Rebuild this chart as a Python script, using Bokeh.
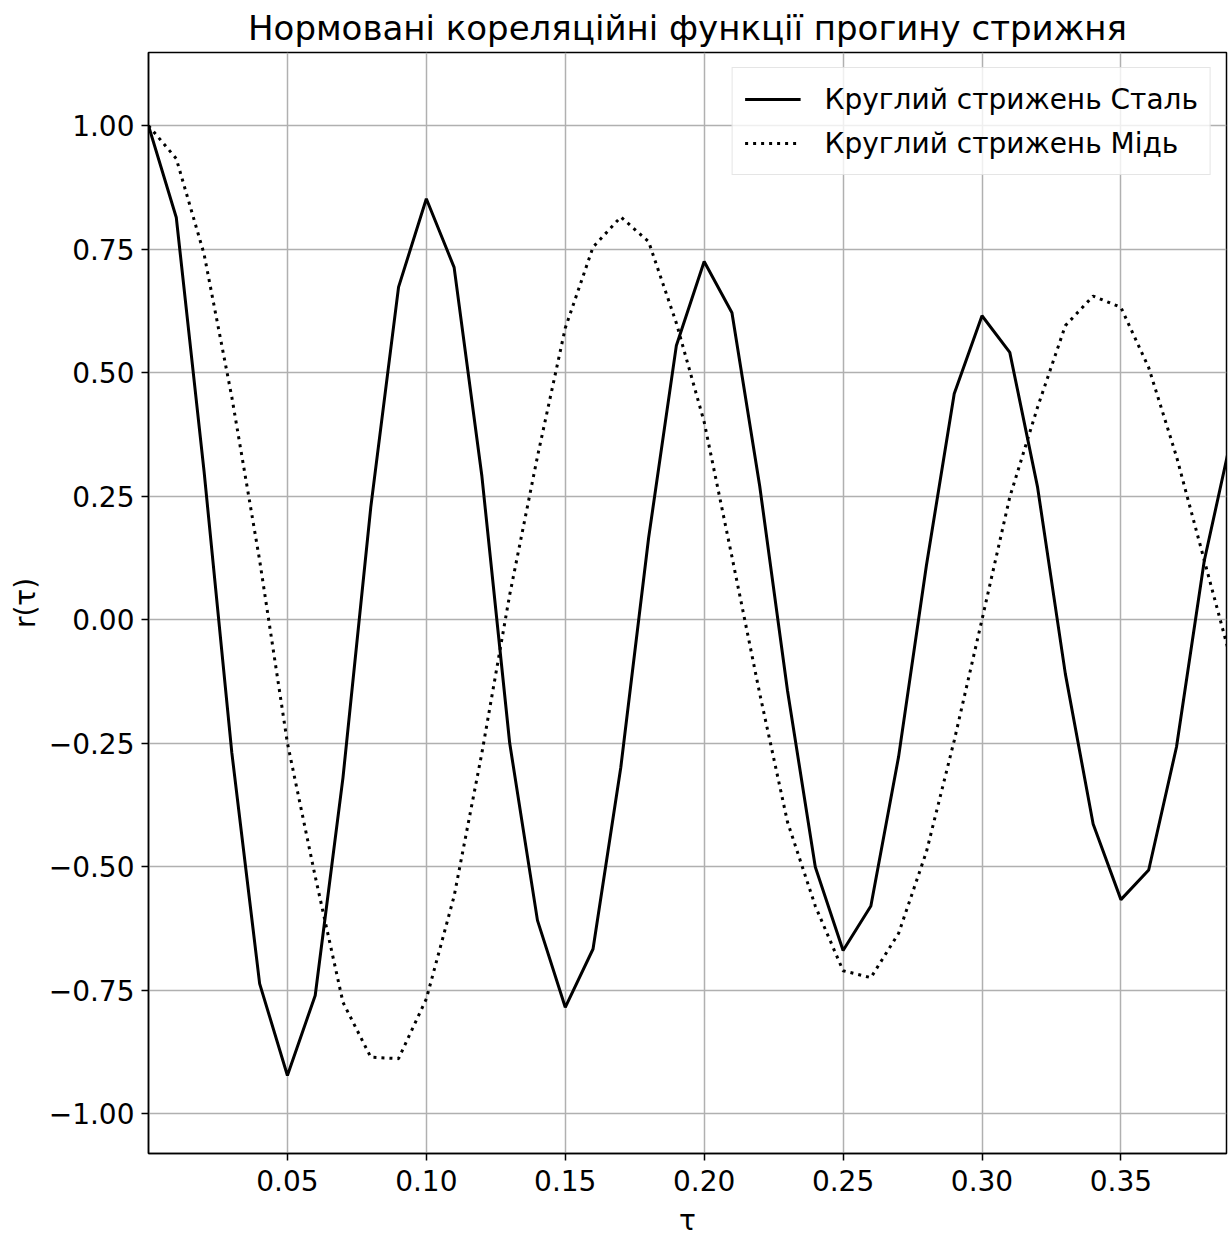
from bokeh.plotting import figure
from bokeh.models import FixedTicker, Legend, LegendItem, Range1d, ColumnDataSource
from bokeh.embed import file_html
from bokeh.resources import INLINE

# ---- data ----
tau = [0.00, 0.01, 0.02, 0.03, 0.04, 0.05, 0.06, 0.07, 0.08, 0.09,
       0.10, 0.11, 0.12, 0.13, 0.14, 0.15, 0.16, 0.17, 0.18, 0.19,
       0.20, 0.21, 0.22, 0.23, 0.24, 0.25, 0.26, 0.27, 0.28, 0.29,
       0.30, 0.31, 0.32, 0.33, 0.34, 0.35, 0.36, 0.37, 0.38, 0.39]

steel = [1.00, 0.814, 0.30, -0.27, -0.737, -0.923, -0.761, -0.32, 0.227, 0.673,
         0.852, 0.713, 0.29, -0.25, -0.609, -0.785, -0.667, -0.299, 0.165, 0.555,
         0.725, 0.621, 0.27, -0.144, -0.501, -0.670, -0.580, -0.277, 0.11, 0.457,
         0.615, 0.541, 0.268, -0.11, -0.414, -0.567, -0.507, -0.258, 0.119, 0.375]

copper = [1.00, 0.933, 0.74, 0.45, 0.12, -0.25, -0.52, -0.775, -0.886, -0.889,
          -0.768, -0.56, -0.27, 0.05, 0.33, 0.59, 0.754, 0.815, 0.765, 0.60,
          0.40, 0.127, -0.15, -0.41, -0.58, -0.711, -0.725, -0.635, -0.47, -0.245,
          0.0, 0.248, 0.43, 0.595, 0.655, 0.632, 0.51, 0.33, 0.12, -0.09]

series_names = ["Круглий стрижень Сталь", "Круглий стрижень Мідь"]

x_ticks = [0.05, 0.10, 0.15, 0.20, 0.25, 0.30, 0.35]
x_tick_labels = ["0.05", "0.10", "0.15", "0.20", "0.25", "0.30", "0.35"]
y_ticks = [-1.0, -0.75, -0.5, -0.25, 0.0, 0.25, 0.5, 0.75, 1.0]
y_tick_labels = ["\u22121.00", "\u22120.75", "\u22120.50", "\u22120.25", "0.00",
                 "0.25", "0.50", "0.75", "1.00"]

title_text = "Нормовані кореляційні функції прогину стрижня"
x_label = "τ"
y_label = "r(τ)"

FONT = "DejaVu Sans"

p = figure(width=1230, height=1242, output_backend="svg", toolbar_location=None,
           x_range=Range1d(0.0, 0.388), y_range=Range1d(-1.081, 1.148),
           min_border_left=148, min_border_right=4, min_border_top=52,
           min_border_bottom=89, background_fill_color="white",
           border_fill_color="white")

p.title.text = title_text
p.title.text_font = FONT
p.title.text_font_size = "34px"
p.title.text_font_style = "normal"
p.title.align = "center"
p.title.text_color = "black"

src = ColumnDataSource(dict(tau=tau, steel=steel, copper=copper))
r1 = p.line("tau", "steel", source=src, line_color="black", line_width=3)
r2 = p.line("tau", "copper", source=src, line_color="black", line_width=3,
            line_dash="3 5")

p.xaxis.ticker = FixedTicker(ticks=x_ticks)
p.xaxis.major_label_overrides = {t: l for t, l in zip(x_ticks, x_tick_labels)}
p.yaxis.ticker = FixedTicker(ticks=y_ticks)
p.yaxis.major_label_overrides = {t: l for t, l in zip(y_ticks, y_tick_labels)}

for ax in (p.xaxis[0], p.yaxis[0]):
    ax.axis_line_color = "black"
    ax.axis_line_width = 1.5
    ax.major_tick_line_color = "black"
    ax.major_tick_line_width = 1.5
    ax.major_tick_out = 7
    ax.major_tick_in = 0
    ax.minor_tick_line_color = None
    ax.major_label_text_font = FONT
    ax.major_label_text_font_size = "28px"
    ax.major_label_text_color = "black"
    ax.axis_label_text_font = FONT
    ax.axis_label_text_font_size = "28px"
    ax.axis_label_text_font_style = "normal"
    ax.axis_label_text_color = "black"

p.xaxis.axis_label = x_label
p.yaxis.axis_label = y_label
p.xaxis.major_label_standoff = 9
p.yaxis.major_label_standoff = 7
p.xaxis.axis_label_standoff = 10
p.yaxis.axis_label_standoff = 4

p.xgrid.ticker = FixedTicker(ticks=x_ticks)
p.ygrid.ticker = FixedTicker(ticks=y_ticks)
p.grid.grid_line_color = "#b0b0b0"
p.grid.grid_line_width = 1.5

p.outline_line_color = "black"
p.outline_line_width = 1.5
p.outline_line_alpha = 1.0

legend = Legend(items=[LegendItem(label=series_names[0], renderers=[r1]),
                       LegendItem(label=series_names[1], renderers=[r2])],
                location="top_right")
legend.label_text_font = FONT
legend.label_text_font_size = "28px"
legend.label_text_color = "black"
legend.glyph_width = 56
legend.glyph_height = 38
legend.label_height = 38
legend.label_standoff = 24
legend.spacing = 6
legend.padding = 12
legend.margin = 15
legend.border_line_color = "#cccccc"
legend.border_line_width = 1.5
legend.background_fill_color = "white"
legend.background_fill_alpha = 0.8
p.add_layout(legend)

open("out.html", "w").write(file_html(p, INLINE))
